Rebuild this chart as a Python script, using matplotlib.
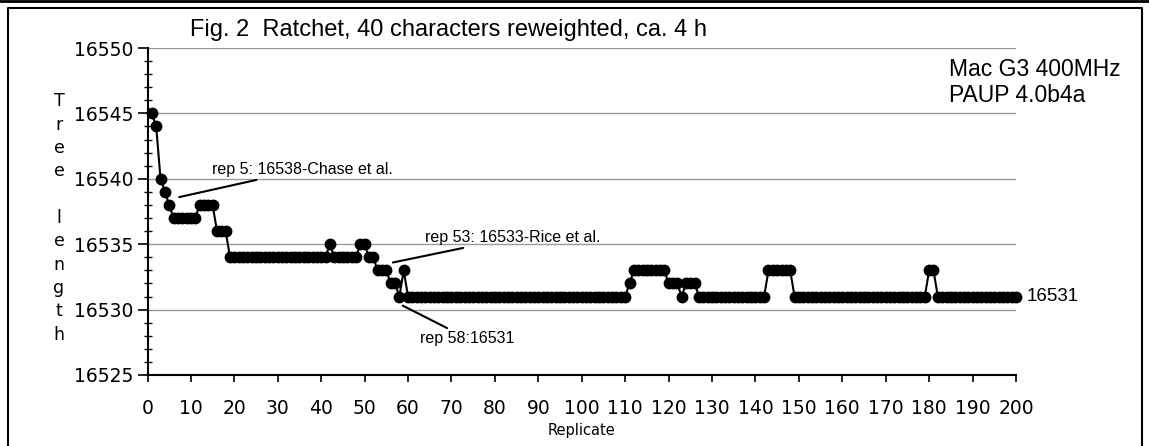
import numpy as np
import matplotlib
matplotlib.use("Agg")
import matplotlib.pyplot as plt
from matplotlib.lines import Line2D
from matplotlib.ticker import MultipleLocator

# ---- data ----
replicate = np.arange(1, 201)
tree_length = [
    16545, 16544, 16540, 16539, 16538, 16537, 16537, 16537, 16537, 16537,
    16537, 16538, 16538, 16538, 16538, 16536, 16536, 16536, 16534, 16534,
    16534, 16534, 16534, 16534, 16534, 16534, 16534, 16534, 16534, 16534,
    16534, 16534, 16534, 16534, 16534, 16534, 16534, 16534, 16534, 16534,
    16534, 16535, 16534, 16534, 16534, 16534, 16534, 16534, 16535, 16535,
    16534, 16534, 16533, 16533, 16533, 16532, 16532, 16531, 16533, 16531,
    16531, 16531, 16531, 16531, 16531, 16531, 16531, 16531, 16531, 16531,
    16531, 16531, 16531, 16531, 16531, 16531, 16531, 16531, 16531, 16531,
    16531, 16531, 16531, 16531, 16531, 16531, 16531, 16531, 16531, 16531,
    16531, 16531, 16531, 16531, 16531, 16531, 16531, 16531, 16531, 16531,
    16531, 16531, 16531, 16531, 16531, 16531, 16531, 16531, 16531, 16531,
    16532, 16533, 16533, 16533, 16533, 16533, 16533, 16533, 16533, 16532,
    16532, 16532, 16531, 16532, 16532, 16532, 16531, 16531, 16531, 16531,
    16531, 16531, 16531, 16531, 16531, 16531, 16531, 16531, 16531, 16531,
    16531, 16531, 16533, 16533, 16533, 16533, 16533, 16533, 16531, 16531,
    16531, 16531, 16531, 16531, 16531, 16531, 16531, 16531, 16531, 16531,
    16531, 16531, 16531, 16531, 16531, 16531, 16531, 16531, 16531, 16531,
    16531, 16531, 16531, 16531, 16531, 16531, 16531, 16531, 16531, 16533,
    16533, 16531, 16531, 16531, 16531, 16531, 16531, 16531, 16531, 16531,
    16531, 16531, 16531, 16531, 16531, 16531, 16531, 16531, 16531, 16531,
]
x_ticks = list(range(0, 201, 10))
y_ticks = [16525, 16530, 16535, 16540, 16545, 16550]

title = "Fig. 2  Ratchet, 40 characters reweighted, ca. 4 h"
notes = ["Mac G3 400MHz", "PAUP 4.0b4a"]
final_label = "16531"

W, H = 1149, 446
fig = plt.figure(figsize=(W / 100, H / 100), dpi=100)

def fx(px):
    return px / W

def fy(py):
    return 1 - py / H

ax = fig.add_axes([fx(147.5), fy(375), fx(1016) - fx(147.5), fy(48) - fy(375)])

ax.plot(replicate, tree_length, color="black", lw=1.5, marker="o",
        markersize=7.5, markerfacecolor="black", markeredgecolor="black",
        clip_on=False, zorder=3)

ax.set_xlim(0, 200)
ax.set_ylim(16525, 16550)
ax.set_xticks(x_ticks)
ax.set_yticks(y_ticks)
ax.yaxis.set_minor_locator(MultipleLocator(1))
ax.yaxis.grid(True, which="major", color="#9a9a9a", lw=1.0)
ax.set_axisbelow(True)
for s in ["top", "right"]:
    ax.spines[s].set_visible(False)
for s in ["left", "bottom"]:
    ax.spines[s].set_linewidth(1.5)
ax.tick_params(axis="y", which="major", direction="out", length=7, width=1.2,
               labelsize=13.5, pad=3)
ax.tick_params(axis="y", which="minor", direction="inout", length=6, width=1.0)
ax.tick_params(axis="x", which="major", direction="out", length=5, width=1.2,
               labelsize=13.5, pad=12)
for lab in ax.get_xticklabels() + ax.get_yticklabels():
    lab.set_family("DejaVu Sans")

ax.set_xlabel("Replicate", fontsize=10.5, labelpad=4, family="DejaVu Sans")

# vertical stacked y label
fig.text(fx(59), fy(218), "T\nr\ne\ne\n\nl\ne\nn\ng\nt\nh", ha="center",
         va="center", fontsize=12.5, family="DejaVu Sans", linespacing=1.38)

# title and notes
fig.text(fx(190), fy(30), title, ha="left", va="center", fontsize=17,
         family="Liberation Sans")
fig.text(fx(949), fy(70), notes[0], ha="left", va="center", fontsize=16.5,
         family="Liberation Sans")
fig.text(fx(949), fy(95), notes[1], ha="left", va="center", fontsize=16.5,
         family="Liberation Sans")

# annotations
ann_kw = dict(ha="left", va="center", fontsize=11.5, family="Liberation Sans",
              arrowprops=dict(arrowstyle="-", color="black", lw=1.5,
                              shrinkA=0, shrinkB=0))
ax.annotate("rep 5: 16538-Chase et al.", xy=(7.3, 16538.6),
            xytext=(14.9, 16540.7), **ann_kw)
ax.annotate("rep 53: 16533-Rice et al.", xy=(56.5, 16533.6),
            xytext=(63.9, 16535.5), **ann_kw)
ax.annotate("rep 58:16531", xy=(58.8, 16530.3), xytext=(62.8, 16527.8),
            **ann_kw)
ax.text(202.5, tree_length[-1], final_label, ha="left", va="center",
        fontsize=13.5, family="Liberation Sans", clip_on=False)

# figure frame
fig.add_artist(Line2D([0, 1], [fy(1), fy(1)], transform=fig.transFigure,
                      color="black", lw=2))
fig.add_artist(Line2D([fx(7.5), fx(7.5), fx(1141.5), fx(1141.5)],
                      [0, fy(7.5), fy(7.5), 0], transform=fig.transFigure,
                      color="black", lw=1.5))

fig.savefig("out.png", dpi=100)
